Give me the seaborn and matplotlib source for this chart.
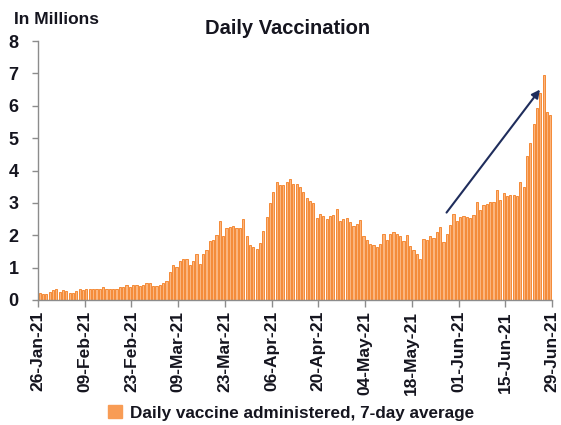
import matplotlib
matplotlib.use("Agg")
import matplotlib.pyplot as plt
from matplotlib.patches import Patch
import seaborn as sns
import pandas as pd
import numpy as np

# ---- data (millions, daily vaccine administered, 7-day average) ----
start_date = "2021-01-26"
n_days = 154
vaccinations = [
    0.23, 0.19, 0.20, 0.25, 0.30, 0.33, 0.26, 0.30, 0.28, 0.23,
    0.23, 0.27, 0.33, 0.30, 0.34, 0.34, 0.34, 0.34, 0.35, 0.40,
    0.34, 0.35, 0.33, 0.33, 0.39, 0.40, 0.45, 0.41, 0.45, 0.45,
    0.43, 0.47, 0.52, 0.53, 0.43, 0.43, 0.46, 0.52, 0.60, 0.86,
    1.08, 1.03, 1.20, 1.28, 1.27, 1.08, 1.19, 1.43, 1.12, 1.41,
    1.55, 1.82, 1.84, 2.02, 2.43, 1.99, 2.22, 2.27, 2.29, 2.23,
    2.23, 2.50, 1.98, 1.69, 1.63, 1.59, 1.75, 2.12, 2.55, 2.99,
    3.33, 3.64, 3.55, 3.55, 3.66, 3.73, 3.57, 3.57, 3.48, 3.35,
    3.16, 3.05, 2.99, 2.53, 2.65, 2.59, 2.49, 2.58, 2.62, 2.82,
    2.43, 2.50, 2.54, 2.41, 2.30, 2.35, 2.46, 1.97, 1.84, 1.72,
    1.69, 1.64, 1.73, 2.03, 1.86, 2.04, 2.10, 2.04, 1.98, 1.82,
    2.00, 1.68, 1.53, 1.41, 1.26, 1.89, 1.84, 1.99, 1.93, 2.11,
    2.27, 1.80, 2.05, 2.31, 2.66, 2.43, 2.55, 2.61, 2.55, 2.53,
    2.62, 3.02, 2.77, 2.94, 2.98, 3.02, 3.02, 3.39, 3.10, 3.31,
    3.20, 3.23, 3.23, 3.20, 3.63, 3.49, 4.45, 4.84, 5.44, 5.93,
    6.39, 6.96, 5.82, 5.72,
]
tick_labels = ["26-Jan-21", "09-Feb-21", "23-Feb-21", "09-Mar-21", "23-Mar-21",
               "06-Apr-21", "20-Apr-21", "04-May-21", "18-May-21", "01-Jun-21",
               "15-Jun-21", "29-Jun-21"]
y_ticks = [0, 1, 2, 3, 4, 5, 6, 7, 8]
series_name = "Daily vaccine administered, 7-day average"
title = "Daily Vaccination"
unit_label = "In Millions"

dates = pd.date_range(start_date, periods=n_days, freq="D")
df = pd.DataFrame({"date": dates.strftime("%Y-%m-%d"), "value": vaccinations})

sns.set_theme(style="white")
plt.rcParams["font.family"] = ["Liberation Sans Narrow", "Liberation Sans", "DejaVu Sans"]
plt.rcParams["font.weight"] = "bold"

txt = "#15151f"
bar_face = "#FBB57E"
bar_edge = "#F48A36"

fig = plt.figure(figsize=(5.61, 4.25), dpi=100)
ax = fig.add_axes([38 / 561, 125 / 425, 514 / 561, 259 / 425])

sns.barplot(data=df, x="date", y="value", ax=ax, color=bar_face, saturation=1,
            errorbar=None, width=0.66, edgecolor=bar_edge, linewidth=0.7)

ax.set_xlim(-0.5, n_days - 0.5)
ax.set_ylim(0, 8)
ax.set_xticks([-0.5 + 14 * k for k in range(len(tick_labels))])
ax.set_xticklabels(tick_labels, rotation=90, fontsize=12.5, fontweight="bold", color=txt)
ax.set_yticks(y_ticks)
ax.set_yticklabels([str(v) for v in y_ticks], fontsize=13, fontweight="bold", color=txt)
ax.set_xlabel("")
ax.set_ylabel("")

for s in ["top", "right"]:
    ax.spines[s].set_visible(False)
for s in ["left", "bottom"]:
    ax.spines[s].set_color("#8c8c8c")
    ax.spines[s].set_linewidth(1.0)
ax.tick_params(axis="x", direction="out", length=5, width=1, color="#8c8c8c", pad=3, bottom=True)
ax.tick_params(axis="y", direction="out", length=4, width=1, color="#8c8c8c", pad=10, left=True)

ax.annotate("", xy=(149.9, 6.5), xytext=(121.9, 2.70),
            arrowprops=dict(arrowstyle="-|>", color="#1f2d5c", lw=1.5,
                            mutation_scale=12, shrinkA=0, shrinkB=0))

fig.text(288 / 561, 1 - 28 / 425, title, ha="center", va="center",
         fontsize=14.5, fontweight="bold", color=txt)
fig.text(14 / 561, 1 - 19 / 425, unit_label, ha="left", va="center",
         fontsize=12.5, fontweight="bold", color=txt)

handle = Patch(facecolor="#F89C55", edgecolor="#F89C55")
fig.legend([handle], [series_name], loc="center", bbox_to_anchor=(291 / 561, 1 - 413 / 425),
           frameon=False, prop={"weight": "bold", "size": 12.3},
           handlelength=0.8, handleheight=0.8, handletextpad=0.5, labelcolor=txt)

fig.savefig("out.png", dpi=100)
